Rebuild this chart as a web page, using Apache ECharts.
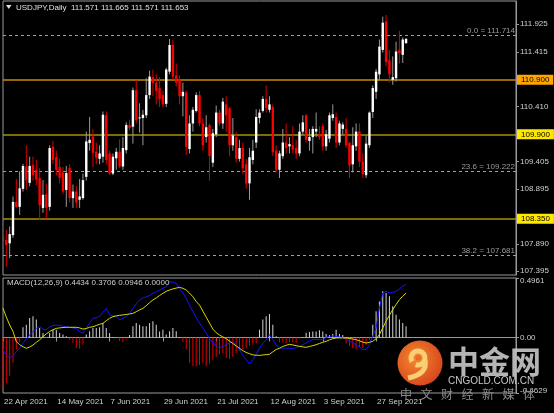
<!DOCTYPE html>
<html>
<head>
<meta charset="utf-8">
<script src="https://cdn.jsdelivr.net/npm/echarts@6/dist/echarts.min.js"></script>
<style>
  html, body { margin: 0; padding: 0; background: #000; }
  #chart { width: 554px; height: 413px; }
</style>
</head>
<body>
<div id="chart"></div>
<script>
// USDJPY daily bars, 22 Apr 2021 onwards (one value per bar)
const opens = [108.05,107.96,107.90,108.05,108.66,108.57,108.90,109.31,109.01,109.34,
  109.25,109.10,108.55,108.80,108.57,109.67,109.48,109.30,109.20,108.88,
  109.28,108.73,108.85,108.70,108.73,109.12,109.74,109.86,109.58,109.45,
  109.49,110.25,109.55,109.18,109.46,109.58,109.31,109.61,110.07,110.04,
  110.71,110.20,110.20,110.25,110.62,110.95,110.85,110.75,110.62,110.46,
  111.05,111.54,110.98,110.90,110.60,110.67,109.63,110.10,110.33,110.62,
  110.10,109.85,110.07,109.38,109.90,110.30,110.10,110.45,110.38,109.70,
  109.85,109.45,109.65,109.35,109.00,109.43,109.75,110.20,110.33,110.55,
  110.35,110.40,109.60,109.25,109.50,109.75,109.68,109.70,109.65,109.55,
  109.95,110.25,109.78,109.85,109.95,109.90,110.05,109.68,109.82,110.20,
  110.22,109.75,110.00,110.00,109.75,109.35,109.68,109.95,109.40,109.15,
  109.70,110.31,110.68,111.00,111.45,111.97,111.26,110.90,110.93,111.45,
  111.36,111.571];
const closes = [107.94,107.87,108.07,108.66,108.57,108.91,109.32,109.06,109.32,109.15,
  109.07,108.60,108.79,108.55,109.65,109.43,109.25,109.10,108.85,109.19,
  108.73,108.85,108.65,108.76,109.06,109.77,109.80,109.56,109.47,109.55,
  110.26,109.43,109.18,109.49,109.58,109.31,109.65,110.07,110.02,110.71,
  110.16,110.21,110.26,110.62,110.96,110.84,110.70,110.55,110.45,111.09,
  111.54,110.96,110.85,110.60,110.68,109.67,110.10,110.35,110.62,110.10,
  109.70,110.03,109.50,109.92,110.30,110.10,110.50,110.25,109.70,109.88,
  109.45,109.65,109.28,109.00,109.48,109.60,110.22,110.30,110.55,110.38,
  110.45,109.57,109.25,109.55,109.75,109.65,109.72,109.62,109.55,109.95,
  110.12,109.80,109.85,110.00,110.00,109.85,109.68,109.90,110.25,110.27,
  109.75,110.10,110.08,109.70,109.33,109.70,109.95,109.40,109.17,109.73,
  110.30,110.75,111.05,111.51,111.95,111.23,111.00,110.95,111.42,111.39,
  111.64,111.653];
const highs = [108.24,108.15,108.21,108.76,109.08,109.22,109.36,109.70,109.49,109.49,
  109.43,109.28,109.06,109.00,109.70,109.78,109.60,109.45,109.30,109.32,
  109.35,108.98,108.95,109.08,109.18,109.95,110.22,110.00,109.75,109.70,
  110.32,110.32,109.60,109.55,109.65,109.81,109.85,110.12,110.17,110.76,
  110.90,110.47,110.35,110.93,111.07,111.09,111.00,110.95,110.70,111.12,
  111.65,111.63,111.20,110.98,110.85,110.70,110.25,110.40,110.67,110.70,
  110.20,110.25,110.10,110.00,110.43,110.35,110.57,110.60,110.40,110.20,
  109.95,109.80,109.75,109.45,109.65,109.80,110.36,110.36,110.60,110.80,
  110.60,110.45,109.70,109.60,110.00,110.10,109.85,110.05,109.80,110.10,
  110.25,110.27,110.00,110.05,110.30,110.05,110.10,109.98,110.30,110.45,
  110.30,110.15,110.12,110.20,109.75,110.03,110.10,110.10,109.55,109.88,
  110.32,110.80,111.10,111.64,112.06,112.09,111.45,111.33,111.60,111.80,
  111.68,111.665];
const lows = [107.87,107.47,107.63,108.00,108.55,108.42,108.85,108.88,108.95,109.05,
  108.97,108.33,108.46,108.34,108.50,109.35,109.15,109.00,108.80,108.57,
  108.65,108.55,108.55,108.55,108.70,109.05,109.60,109.30,109.35,109.35,
  109.38,109.35,109.15,109.15,109.25,109.28,109.25,109.55,109.97,109.73,
  110.10,109.93,109.70,110.20,110.55,110.60,110.45,110.40,110.40,110.40,
  111.00,110.90,110.78,110.45,110.23,109.52,109.55,109.95,110.30,110.05,
  109.60,109.75,109.05,109.30,109.85,110.05,110.00,109.95,109.50,109.60,
  109.38,109.40,109.17,108.90,108.70,109.35,109.65,110.10,110.30,110.30,
  110.30,109.50,109.20,109.10,109.45,109.55,109.55,109.55,109.45,109.50,
  109.90,109.75,109.60,109.55,109.85,109.80,109.60,109.60,109.75,110.15,
  109.65,109.70,109.90,109.65,109.10,109.20,109.60,109.30,109.10,109.10,
  109.65,110.20,110.55,110.90,111.40,111.15,110.85,110.81,110.87,111.20,
  111.21,111.571];

// MACD(12,26,9) pane
const macdMain = [-0.10,-0.15,-0.17,-0.15,-0.12,-0.09,-0.05,-0.01,0.02,0.05,
  0.076,0.09,0.07,0.065,0.09,0.10,0.104,0.10,0.095,0.09,
  0.085,0.08,0.076,0.05,0.035,0.076,0.12,0.16,0.165,0.174,
  0.21,0.243,0.19,0.18,0.174,0.146,0.16,0.174,0.20,0.243,
  0.28,0.313,0.33,0.34,0.35,0.368,0.38,0.396,0.41,0.424,
  0.466,0.46,0.452,0.41,0.37,0.327,0.27,0.215,0.165,0.12,
  0.08,0.038,-0.01,-0.046,-0.07,-0.088,-0.075,-0.06,-0.045,-0.032,
  -0.06,-0.10,-0.15,-0.185,-0.22,-0.185,-0.14,-0.088,-0.05,-0.018,
  0.024,-0.018,-0.06,-0.088,-0.09,-0.088,-0.09,-0.093,-0.085,-0.074,
  -0.06,-0.046,-0.03,-0.018,-0.015,-0.018,-0.018,0.0,0.01,0.012,
  0.01,0.005,0.0,-0.015,-0.032,-0.045,-0.06,-0.08,-0.10,-0.10,
  -0.06,0.01,0.079,0.246,0.371,0.385,0.371,0.375,0.385,0.405,
  0.427,0.4434];
const macdSignal = [0.243,0.17,0.104,0.05,-0.035,-0.06,-0.077,-0.09,-0.08,-0.063,
  -0.04,-0.02,0.007,0.03,0.05,0.065,0.076,0.08,0.083,0.085,
  0.085,0.085,0.085,0.08,0.07,0.075,0.085,0.09,0.10,0.11,
  0.118,0.14,0.16,0.174,0.18,0.185,0.188,0.192,0.196,0.201,
  0.215,0.23,0.243,0.265,0.29,0.313,0.33,0.35,0.368,0.385,
  0.396,0.405,0.412,0.418,0.41,0.396,0.37,0.34,0.30,0.27,
  0.22,0.17,0.12,0.07,0.04,0.02,0.005,-0.01,-0.03,-0.05,
  -0.07,-0.09,-0.11,-0.125,-0.135,-0.145,-0.148,-0.149,-0.146,-0.143,
  -0.14,-0.12,-0.10,-0.09,-0.075,-0.065,-0.057,-0.062,-0.068,-0.074,
  -0.078,-0.082,-0.075,-0.068,-0.06,-0.05,-0.04,-0.032,-0.02,-0.01,
  -0.004,-0.003,-0.004,-0.004,-0.008,-0.013,-0.018,-0.028,-0.038,-0.046,
  -0.04,-0.032,-0.01,0.024,0.08,0.135,0.185,0.232,0.275,0.315,
  0.345,0.3706];
const macdHist = [-0.42,-0.38,-0.32,-0.21,-0.10,-0.04,0.085,0.107,0.163,0.177,
  0.149,0.079,0.038,-0.004,0.038,0.065,0.065,0.038,0.024,0.01,
  -0.018,-0.046,-0.088,-0.093,-0.06,0.024,0.051,0.079,0.079,0.085,
  0.121,0.079,0.038,0.005,0.0,-0.03,-0.04,-0.015,0.02,0.093,
  0.121,0.107,0.093,0.093,0.121,0.135,0.107,0.05,0.065,0.024,
  0.051,0.079,0.051,0.005,-0.04,-0.10,-0.21,-0.24,-0.24,-0.23,
  -0.21,-0.24,-0.22,-0.185,-0.16,-0.14,-0.13,-0.17,-0.18,-0.16,
  -0.13,-0.11,-0.10,-0.09,-0.07,-0.06,-0.05,0.065,0.149,0.177,
  0.196,0.107,0.01,-0.04,-0.04,-0.045,-0.04,-0.04,-0.045,-0.01,
  0.005,0.04,0.045,0.05,0.05,0.06,0.05,0.03,0.02,0.03,
  0.065,0.03,0.02,-0.05,-0.07,-0.09,-0.10,-0.08,-0.09,-0.06,
  -0.02,0.107,0.218,0.301,0.385,0.371,0.343,0.26,0.19,0.149,
  0.121,0.0946];

// axis labels
const dateLabels = ['22 Apr 2021','14 May 2021','7 Jun 2021','29 Jun 2021','21 Jul 2021','12 Aug 2021','3 Sep 2021','27 Sep 2021'];
const priceTicks = [111.925, 111.415, 110.410, 109.405, 108.895, 107.890, 107.395];
const macdTicks = [0.4961, 0, -0.4629];

// horizontal levels
const levels = [110.900, 109.900, 108.350];
const levelColors = ['#c98800', '#a89200', '#a89200'];
const levelBoxes = ['#ffa500', '#ffe800', '#ffe800'];
const fibNames = ['0.0', '23.6', '38.2'];
const fibValues = [111.714, 109.222, 107.681];
const lastPrice = 111.653;

const slots = 155; // chart shift: empty space right of the last bar
const cats = [];
for (let i = 0; i < slots; i++) cats.push(i);

const candles = opens.map((o, i) => [i, o, closes[i], lows[i], highs[i]]);

const FONT = 'Liberation Sans';
const chart = echarts.init(document.getElementById('chart'));

function renderCandle(params, api) {
  const idx = api.value(0);
  const o = api.coord([idx, api.value(1)]);
  const c = api.coord([idx, api.value(2)]);
  const l = api.coord([idx, api.value(3)]);
  const h = api.coord([idx, api.value(4)]);
  const up = api.value(2) >= api.value(1);
  const x = o[0];
  const top = Math.min(o[1], c[1]);
  const bh = Math.max(Math.abs(o[1] - c[1]), 1);
  return {
    type: 'group',
    children: [
      {
        type: 'line',
        shape: { x1: x, y1: h[1], x2: x, y2: l[1] },
        style: { stroke: up ? '#9a9a9a' : '#d80000', lineWidth: 1 }
      },
      {
        type: 'rect',
        shape: { x: x - 1.2, y: top, width: 2.4, height: bh },
        style: { fill: up ? '#ffffff' : '#ff0000' }
      }
    ]
  };
}

const levelLines = levels.map((v, k) => ({
  yAxis: v,
  lineStyle: { color: levelColors[k], width: 1.6, type: 'solid' },
  label: {
    show: true, position: 'end', distance: 1,
    formatter: v.toFixed(3),
    backgroundColor: levelBoxes[k], color: '#000',
    padding: [1, 4, 0, 4], fontSize: 8, lineHeight: 9, fontFamily: FONT
  }
}));
const fibLines = fibValues.map((v, k) => ({
  yAxis: v,
  lineStyle: { color: '#a0a0a0', width: 1, type: [3, 3] },
  label: {
    show: true, position: 'insideEndTop', distance: 1,
    formatter: fibNames[k] + ' = ' + v.toFixed(3),
    color: '#9a9a9a', fontSize: 8, fontFamily: FONT
  }
}));
const priceBox = {
  yAxis: lastPrice,
  lineStyle: { opacity: 0, width: 0 },
  label: {
    show: true, position: 'end', distance: 1,
    formatter: lastPrice.toFixed(3),
    backgroundColor: '#ffffff', color: '#000',
    padding: [1, 4, 0, 4], fontSize: 8, lineHeight: 9, fontFamily: FONT
  }
};

const showDate = (i) => i % 16 === 0 && i / 16 < dateLabels.length;

const option = {
  backgroundColor: '#000000',
  animation: false,
  textStyle: { fontFamily: FONT },
  grid: [
    { left: 3, right: 38, top: 1, height: 274, show: true, borderColor: '#9a9a9a', borderWidth: 1 },
    { left: 3, right: 38, top: 278, height: 115, show: true, borderColor: '#9a9a9a', borderWidth: 1 }
  ],
  xAxis: [
    { type: 'category', gridIndex: 0, data: cats, boundaryGap: false, show: false },
    {
      type: 'category', gridIndex: 1, data: cats, boundaryGap: false,
      axisLine: { show: true, lineStyle: { color: '#9a9a9a' } },
      axisTick: { show: true, length: 4, interval: (i) => showDate(i), lineStyle: { color: '#9a9a9a' } },
      axisLabel: {
        interval: (i) => showDate(i),
        formatter: (v) => dateLabels[Math.round(v / 16)] || '',
        color: '#d0d0d0', fontSize: 8, align: 'left', padding: [0, 0, 0, 1], margin: 5
      }
    }
  ],
  yAxis: [
    {
      type: 'value', gridIndex: 0, position: 'right', min: 107.319, max: 112.347,
      splitLine: { show: false },
      axisLine: { show: true, lineStyle: { color: '#9a9a9a' } },
      axisTick: { show: true, length: 3, customValues: priceTicks, lineStyle: { color: '#9a9a9a' } },
      axisLabel: { customValues: priceTicks, formatter: (v) => v.toFixed(3), color: '#d0d0d0', fontSize: 8, margin: 4 }
    },
    {
      type: 'value', gridIndex: 1, position: 'right', min: -0.4629, max: 0.4961,
      splitLine: { show: false },
      axisLine: { show: true, lineStyle: { color: '#9a9a9a' } },
      axisTick: { show: true, length: 3, customValues: macdTicks, lineStyle: { color: '#9a9a9a' } },
      axisLabel: {
        customValues: macdTicks,
        formatter: (v) => (v === 0 ? '0.00' : v > 0 ? '{t|' + v.toFixed(4) + '}' : '{b|' + v.toFixed(4) + '}'),
        rich: {
          t: { color: '#d0d0d0', fontSize: 8, padding: [6, 0, 0, 0] },
          b: { color: '#d0d0d0', fontSize: 8, padding: [0, 0, 5, 0] }
        },
        color: '#d0d0d0', fontSize: 8, margin: 4
      }
    }
  ],
  series: [
    {
      name: 'levels', type: 'line', xAxisIndex: 0, yAxisIndex: 0,
      data: closes, symbol: 'none', silent: true,
      lineStyle: { opacity: 0 },
      markLine: {
        symbol: 'none', silent: true, animation: false,
        data: [...fibLines, ...levelLines, priceBox]
      }
    },
    {
      name: 'USDJPY', type: 'custom', xAxisIndex: 0, yAxisIndex: 0,
      renderItem: renderCandle, data: candles, clip: true,
      encode: { x: 0, y: [1, 2, 3, 4] }, z: 5
    },
    {
      name: 'hist', type: 'bar', xAxisIndex: 1, yAxisIndex: 1,
      data: macdHist, barWidth: 1,
      itemStyle: { color: (p) => (p.value >= 0 ? '#d4d4d4' : '#e00000') }
    },
    {
      name: 'macd', type: 'line', xAxisIndex: 1, yAxisIndex: 1,
      data: macdMain, symbol: 'none', lineStyle: { color: '#1515ff', width: 1 }, z: 4
    },
    {
      name: 'signal', type: 'line', xAxisIndex: 1, yAxisIndex: 1,
      data: macdSignal, symbol: 'none', lineStyle: { color: '#d8d800', width: 1 }, z: 4
    }
  ],
  graphic: [
    { type: 'polygon', shape: { points: [[6, 5], [11.5, 5], [8.75, 9]] }, style: { fill: '#e0e0e0' }, z: 100 },
    {
      type: 'text', x: 16, y: 8, z: 100,
      style: { text: 'USDJPY,Daily  111.571 111.665 111.571 111.653', fill: '#e0e0e0', font: '8px "Liberation Sans"', verticalAlign: 'middle' }
    },
    {
      type: 'text', x: 7, y: 283, z: 100,
      style: { text: 'MACD(12,26,9) 0.4434 0.3706 0.0946 0.0000', fill: '#d0d0d0', font: '8px "Liberation Sans"', verticalAlign: 'middle' }
    },
    // watermark
    {
      type: 'circle', shape: { cx: 420, cy: 363, r: 22.5 }, z: 100,
      style: {
        fill: new echarts.graphic.RadialGradient(0.4, 0.4, 0.7, [
          { offset: 0, color: '#f4892e' }, { offset: 1, color: '#d4401c' }
        ])
      }
    },
    { type: 'arc', shape: { cx: 418, cy: 358, r: 7, startAngle: 2.6, endAngle: 8.2 }, z: 101, style: { stroke: '#f8cf72', lineWidth: 5, fill: null } },
    { type: 'bezierCurve', shape: { x1: 425, y1: 360, cpx1: 428, cpy1: 374, x2: 408, y2: 378 }, z: 101, style: { stroke: '#f8cf72', lineWidth: 5, fill: null } },
    { type: 'circle', shape: { cx: 418, cy: 358, r: 2.5 }, z: 101, style: { fill: '#e86a26' } },
    {
      type: 'text', x: 448, y: 361, z: 100,
      style: { text: '中金网', fill: 'rgba(200,200,200,0.9)', font: 'bold 31px "Noto Sans CJK SC"', verticalAlign: 'middle' }
    },
    {
      type: 'text', x: 448, y: 381, z: 100,
      style: { text: 'CNGOLD.COM.CN', fill: '#c8c8c8', font: '10px "Liberation Sans"', verticalAlign: 'middle' }
    },
    ...'中文财经新媒体'.split('').map((ch, k) => ({
      type: 'text', x: 400 + k * 20.5, y: 394, z: 100,
      style: { text: ch, fill: '#8c8c8c', font: '12px "Noto Sans CJK SC"', verticalAlign: 'middle' }
    }))
  ]
};

chart.setOption(option);
</script>
</body>
</html>
